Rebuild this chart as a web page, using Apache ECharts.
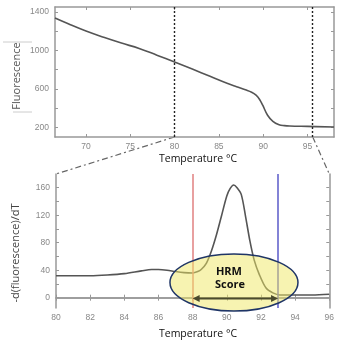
<!DOCTYPE html>
<html><head><meta charset="utf-8">
<script src="https://cdn.jsdelivr.net/npm/echarts@6/dist/echarts.min.js"></script>
<style>html,body{margin:0;padding:0;background:#fff}#c{width:337px;height:342px}</style>
</head><body><div id="c"></div>
<script>
// Top panel: fluorescence melt curve
const topTemp  = [66.5, 68, 70, 72, 74, 76, 78, 80, 82, 84, 86, 87, 88, 88.7, 89.2, 89.6, 89.95, 90.5, 91.1, 91.8, 92.4, 93, 95, 98];
const topFluor = [1335, 1275, 1200, 1135, 1075, 1020, 950, 878, 805, 730, 655, 622, 590, 565, 534, 490, 430, 326, 263, 228, 218, 214, 210, 204];
// Bottom panel: derivative
const botTemp  = [80, 81, 82, 83, 84, 85, 85.6, 86, 86.5, 87, 87.5, 88, 88.3, 88.5, 88.8, 89.1, 89.4, 89.7, 90, 90.2, 90.4, 90.6, 90.85, 91.1, 91.35, 91.6, 91.9, 92.3, 92.7, 93.1, 94, 95, 96];
const botDeriv = [32, 32, 32, 33, 35, 39, 41, 41, 40, 38, 36.5, 36, 38, 41, 50, 68, 92, 120, 148, 159, 164, 160, 150, 118, 83, 55, 34, 14, 7, 4, 4, 4, 5];
// Tick labels
const topXLabels = [70, 75, 80, 85, 90, 95];
const topYLabels = [200, 600, 1000, 1400];
const topYTicks  = [200, 400, 600, 800, 1000, 1200, 1400];
const botXLabels = [80, 82, 84, 86, 88, 90, 92, 94, 96];
const botYLabels = [0, 40, 80, 120, 160];
const botYTicks  = [0, 20, 40, 60, 80, 100, 120, 140, 160];
// Markers
const zoomRange = [80, 95.6];
const hrmLeft = 88, hrmRight = 93;
const ellipseCenter = [90.42, 22];
const arrowY = -1;

const chart = echarts.init(document.getElementById('c'), null, {renderer: 'canvas'});
const lblStyle = {color: '#888', fontSize: 8.5, fontFamily: 'Liberation Sans', formatter: v => String(v)};
const axisLine = {show: true, lineStyle: {color: '#999', width: 1.5}};
function xAx(grid, min, max, labels, show, pos) {
  return {type: 'value', gridIndex: grid, min: min, max: max, position: pos,
    axisLine: axisLine, splitLine: {show: false},
    axisTick: {show: true, inside: true, length: 3, lineStyle: {color: '#999'}, customValues: labels},
    axisLabel: Object.assign({show: show, margin: 5, customValues: labels}, lblStyle)};
}
function yAx(grid, min, max, labels, ticks, show, pos) {
  return {type: 'value', gridIndex: grid, min: min, max: max, position: pos,
    axisLine: axisLine, splitLine: {show: false},
    axisTick: {show: true, inside: true, length: 3, lineStyle: {color: '#999'}, customValues: ticks},
    axisLabel: Object.assign({show: show, margin: 6, customValues: labels}, lblStyle)};
}
chart.setOption({
  animation: false,
  grid: [
    {left: 55, top: 7, width: 279, height: 130, show: false},
    {left: 56, top: 174, width: 278, height: 134, show: false}
  ],
  xAxis: [
    xAx(0, 66.5, 98, topXLabels, true, 'bottom'),
    xAx(0, 66.5, 98, topXLabels, false, 'top'),
    xAx(1, 80, 96, botXLabels, true, 'bottom'),
    xAx(1, 80, 96, botXLabels, false, 'top')
  ],
  yAxis: [
    yAx(0, 100, 1450, topYLabels, topYTicks, true, 'left'),
    yAx(0, 100, 1450, topYLabels, topYTicks, false, 'right'),
    yAx(1, -15, 180, botYLabels, botYTicks, true, 'left'),
    yAx(1, -15, 180, botYLabels, botYTicks, false, 'right')
  ],
  series: [
    {type: 'line', xAxisIndex: 0, yAxisIndex: 0, showSymbol: false, smooth: 0.4,
     data: topTemp.map((t, i) => [t, topFluor[i]]),
     lineStyle: {color: '#555', width: 1.6},
     markLine: {silent: true, symbol: 'none', label: {show: false},
       lineStyle: {color: '#222', type: [2, 2], width: 1.4},
       data: zoomRange.map(v => ({xAxis: v}))}},
    {type: 'line', xAxisIndex: 2, yAxisIndex: 2, showSymbol: false, smooth: 0.3,
     data: botTemp.map((t, i) => [t, botDeriv[i]]),
     lineStyle: {color: '#555', width: 1.6},
     markLine: {silent: true, symbol: 'none', label: {show: false},
       data: [
         {xAxis: hrmLeft, lineStyle: {color: '#e08080', type: 'solid', width: 1.5}},
         {xAxis: hrmRight, lineStyle: {color: '#5a5ac8', type: 'solid', width: 1.5}}
       ]}}
  ]
});

const p = (g, v) => chart.convertToPixel({gridIndex: g}, v);
const a1 = p(0, [zoomRange[0], 100]), a2 = p(0, [zoomRange[1], 100]);
const b1 = p(1, [80, 180]), b2 = p(1, [96, 180]);
const ec = p(1, ellipseCenter);
const ar1 = p(1, [hrmLeft, arrowY]), ar2 = p(1, [hrmRight, arrowY]);
const arrowColor = '#4a4a2e';
function head(tip, dir) {
  return {type: 'polygon', z: 102, shape: {points: [[tip[0], tip[1]], [tip[0] + dir * 7, tip[1] - 3.5], [tip[0] + dir * 7, tip[1] + 3.5]]},
    style: {fill: arrowColor}};
}
chart.setOption({
  graphic: [
    {type: 'line', shape: {x1: a1[0], y1: a1[1], x2: b1[0], y2: b1[1]}, style: {stroke: '#666', lineWidth: 1.2, lineDash: [6, 3, 2, 3]}},
    {type: 'line', shape: {x1: a2[0], y1: a2[1], x2: b2[0], y2: b2[1]}, style: {stroke: '#666', lineWidth: 1.2, lineDash: [6, 3, 2, 3]}},
    {type: 'ellipse', z: 100, shape: {cx: ec[0], cy: ec[1], rx: 64, ry: 28.5},
     style: {fill: 'rgba(240,232,100,0.5)', stroke: '#1f3566', lineWidth: 1.5}},
    {type: 'line', z: 101, shape: {x1: ar1[0] + 4, y1: ar1[1], x2: ar2[0] - 4, y2: ar2[1]}, style: {stroke: arrowColor, lineWidth: 2}},
    head(ar1, 1), head(ar2, -1),
    {type: 'text', z: 103, x: ec[0] - 5, y: ec[1] - 11, style: {text: 'HRM', fill: '#111', font: 'bold 11px "Open Sans"', textAlign: 'center', textVerticalAlign: 'middle'}},
    {type: 'text', z: 103, x: ec[0] - 4, y: ec[1] + 2, style: {text: 'Score', fill: '#111', font: 'bold 11px "Open Sans"', textAlign: 'center', textVerticalAlign: 'middle'}},
    {type: 'text', x: 198, y: 159, style: {text: 'Temperature °C', fill: '#111', font: '10.5px "Open Sans"', textAlign: 'center', textVerticalAlign: 'middle'}},
    {type: 'text', x: 198, y: 334, style: {text: 'Temperature °C', fill: '#111', font: '10.5px "Open Sans"', textAlign: 'center', textVerticalAlign: 'middle'}},
    {type: 'text', x: 17, y: 76, rotation: Math.PI / 2, style: {text: 'Fluorescence', fill: '#555', font: '11px "Open Sans"', textAlign: 'center', textVerticalAlign: 'middle'}},
    {type: 'text', x: 16, y: 253, rotation: Math.PI / 2, style: {text: '-d(fluorescence)/dT', fill: '#444', font: '11px "Open Sans"', textAlign: 'center', textVerticalAlign: 'middle'}},
    {type: 'line', shape: {x1: 3, y1: 42, x2: 32, y2: 42}, style: {stroke: '#ccc', lineWidth: 1}},
    {type: 'line', shape: {x1: 13, y1: 112, x2: 32, y2: 112}, style: {stroke: '#ccc', lineWidth: 1}}
  ]
});
</script></body></html>
